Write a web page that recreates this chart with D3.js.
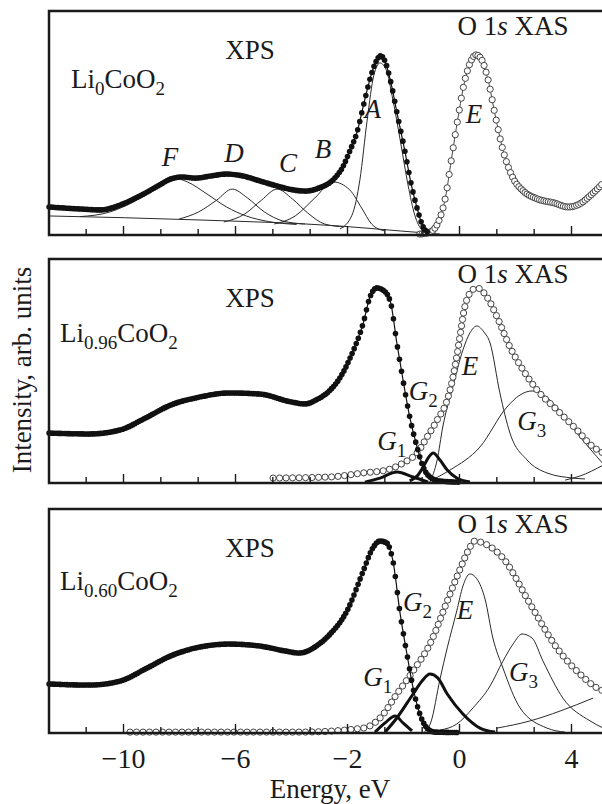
<!DOCTYPE html>
<html>
<head>
<meta charset="utf-8">
<style>
body{margin:0;background:#fff}
svg{display:block}
text{font-family:"Liberation Serif","Times New Roman",serif;fill:#1a1a1a;font-size:27px}
.frame{fill:none;stroke:#1a1a1a;stroke-width:2.5}
.tick line{stroke:#1a1a1a;stroke-width:1.4}
.tick text{font-size:28px}
.thin{fill:none;stroke:#2a2a2a;stroke-width:1}
.thick{fill:none;stroke:#111;stroke-width:3}
.xps{fill:none;stroke:#111;stroke-width:1.2}
.xas{fill:none;stroke:#444;stroke-width:1}
</style>
</head>
<body>
<script src="https://cdn.jsdelivr.net/npm/d3@7/dist/d3.min.js"></script>
<script>
// energy tick labels (eV) and intensity in arb. units, 0..100 per panel
var tickVals = [-10, -6, -2, 0, 4];

// Li0CoO2
var xps0 = [[-12.64,12.5],[-11.5,11.6],[-10.8,11.2],[-10.1,13.4],[-9.4,17.4],[-8.7,22.3],[-8.3,25.0],[-7.9,25.9],[-7.4,25.4],[-6.9,26.3],[-6.3,27.2],[-5.7,26.3],[-5.1,24.1],[-4.5,21.9],[-3.9,20.1],[-3.5,19.6],[-3.0,21.0],[-2.5,24.6],[-2.15,30.4],[-1.95,37.5],[-1.82,46.0],[-1.70,58.5],[-1.58,70.5],[-1.48,77.5],[-1.40,80.0],[-1.32,77.5],[-1.22,68.5],[-1.10,53.6],[-0.97,37.9],[-0.85,22.3],[-0.74,11.2],[-0.64,3.6],[-0.53,0.9]];
var xas0 = [[-0.70,0.4],[-0.52,1.3],[-0.36,6.3],[-0.24,17.0],[-0.14,33.0],[-0.02,52.0],[0.20,68.5],[0.42,77.5],[0.61,80.4],[0.80,78.5],[1.04,69.2],[1.29,53.6],[1.57,37.9],[1.93,25.4],[2.3,19.6],[2.8,16.1],[3.4,14.3],[3.9,12.5],[4.3,13.8],[4.75,18.3],[5.15,23.2]];
var bg0 = [[-12.64,8.5],[-7.25,6.7],[-2.25,4.0],[-1.05,1.8],[-0.34,0.4]];
var peakF = [[-11.54,8.2],[-10.46,10.3],[-9.39,16.5],[-8.68,22.3],[-8.2,25.4],[-7.7,23.7],[-7.0,18.3],[-6.3,12.5],[-5.6,8.5],[-4.8,6.0],[-3.8,4.7]];
var peakD = [[-8.0,7.1],[-7.3,10.3],[-6.65,15.6],[-6.1,20.5],[-5.55,16.5],[-4.95,10.3],[-4.3,6.3],[-3.5,4.9]];
var peakC = [[-6.4,5.8],[-5.65,9.4],[-5.05,15.6],[-4.5,20.5],[-3.95,16.1],[-3.4,9.8],[-2.8,4.9],[-2.1,3.6]];
var peakB = [[-4.6,4.9],[-3.85,8.5],[-3.15,16.5],[-2.5,23.7],[-1.95,20.1],[-1.74,12.1],[-1.56,4.9],[-1.33,1.8]];
var peakA = [[-2.25,2.7],[-1.91,8.9],[-1.77,24.6],[-1.64,51.3],[-1.52,71.4],[-1.41,76.8],[-1.30,73.7],[-1.18,60.3],[-1.05,42.4],[-0.91,22.3],[-0.79,8.9],[-0.66,2.2],[-0.52,0.4]];

// Li0.96CoO2
var xps96 = [[-12.64,22.3],[-11.2,21.9],[-10.1,23.7],[-9.2,29.0],[-8.3,34.8],[-7.25,38.4],[-6.2,40.2],[-5.1,39.7],[-4.0,36.2],[-3.5,35.3],[-3.1,37.1],[-2.6,41.5],[-2.2,48.0],[-1.95,55.5],[-1.71,71.4],[-1.59,83.0],[-1.47,87.1],[-1.34,85.8],[-1.22,80.4],[-1.11,62.5],[-1.0,46.0],[-0.88,29.5],[-0.75,16.1],[-0.64,7.1],[-0.52,2.7],[-0.34,0.9],[0.0,0.4]];
var xas96 = [[-4.64,2.2],[-2.61,2.7],[-1.71,4.5],[-1.29,5.8],[-1.0,8.9],[-0.75,13.4],[-0.57,20.5],[-0.39,28.1],[-0.21,37.1],[-0.14,43.5],[-0.05,55.0],[0.04,66.0],[0.18,77.0],[0.39,84.8],[0.64,87.1],[1.0,83.0],[1.36,74.1],[1.82,60.7],[2.29,50.4],[2.79,41.5],[3.5,32.6],[4.21,23.7],[4.79,16.1],[5.15,13.4]];
var e96 = [[-0.52,0.4],[-0.39,10.3],[-0.29,25.0],[-0.11,42.9],[0.14,59.4],[0.39,67.0],[0.64,70.1],[0.89,67.4],[1.11,62.5],[1.46,40.2],[1.82,22.3],[2.43,10.3],[3.14,4.5],[4.07,2.2],[4.5,1.8]];
var g3_96 = [[-0.52,0.9],[-0.16,5.8],[0.75,16.1],[1.71,33.9],[2.18,39.3],[2.61,41.1],[3.07,38.8],[3.5,33.9],[4.21,22.3],[5.15,8.5]];
var g4_96 = [[3.79,1.3],[4.32,3.1],[5.15,8.0]];
var g2_96 = [[-0.88,0.9],[-0.73,3.6],[-0.64,7.1],[-0.55,11.2],[-0.46,13.4],[-0.34,10.3],[-0.21,5.8],[-0.04,2.2],[0.39,0.4]];
var g1_96 = [[-1.68,0.4],[-1.41,2.2],[-1.11,4.9],[-0.82,2.7],[-0.55,0.4]];

// Li0.60CoO2
var xps60 = [[-12.64,21.9],[-11.2,21.4],[-10.1,23.2],[-9.2,28.6],[-8.3,34.4],[-7.25,38.4],[-6.2,39.7],[-5.1,38.8],[-4.2,36.6],[-3.7,35.7],[-3.1,38.8],[-2.6,44.2],[-2.0,54.5],[-1.71,72.3],[-1.55,82.1],[-1.41,85.7],[-1.29,84.8],[-1.18,76.8],[-1.05,53.1],[-0.93,35.3],[-0.82,20.1],[-0.70,8.5],[-0.57,2.2],[-0.43,0.4],[0.0,0.2]];
var xas60 = [[-9.75,0.4],[-3.68,0.4],[-1.71,2.2],[-1.41,6.7],[-1.11,17.4],[-0.82,27.7],[-0.52,39.7],[-0.21,58.9],[0.04,73.2],[0.32,81.2],[0.57,85.7],[0.86,84.8],[1.57,78.1],[2.54,57.6],[3.5,37.9],[4.32,26.3],[4.93,20.1],[5.15,18.8]];
var e60 = [[-0.62,0.5],[-0.5,5.0],[-0.34,24.0],[-0.21,38.0],[-0.04,54.5],[0.14,65.6],[0.39,71.0],[0.64,68.8],[0.93,59.8],[1.21,42.4],[1.57,29.0],[2.18,11.2],[3.14,2.2],[3.79,0.4]];
var g3_60 = [[-0.34,1.3],[-0.04,4.0],[0.5,11.2],[1.11,21.0],[1.57,32.1],[1.93,39.7],[2.25,44.2],[2.61,42.4],[3.0,32.1],[3.71,15.6],[4.68,5.4],[5.15,2.2]];
var g4_60 = [[1.36,2.2],[2.54,5.4],[3.61,9.8],[4.79,15.6]];
var g2_60 = [[-1.32,0.4],[-1.11,6.7],[-0.82,17.4],[-0.66,23.2],[-0.52,26.3],[-0.38,24.6],[-0.21,17.4],[0.14,8.5],[0.75,2.2],[1.29,0.4]];
var g1_60 = [[-1.5,0.4],[-1.32,4.5],[-1.14,7.6],[-1.0,4.5],[-0.84,0.9]];

// peak labels: [letter, subscript, energy, intensity]
var labels0 = [["F","",-8.32,30.8],["D","",-6.04,32.6],["C","",-4.11,28.1],["B","",-2.86,34.4],["A","",-1.54,52.2],["E","",0.54,50.0]];
var labels96 = [["E","",0.39,48.2],["G","2",-0.64,37.1],["G","1",-1.20,14.7],["G","3",2.6,23.7]];
var labels60 = [["E","",0.21,50.9],["G","2",-0.74,54.5],["G","1",-1.45,21.0],["G","3",2.3,23.2]];

var W = 602, H = 804;
var left = 49, right = 605, panelH = 224;
var tops = [11, 259, 509];

var panels = [
  {name:["Li","0","CoO","2"], xps:xps0, xas:xas0, xasByX:true, xasStep:2, thin:[bg0,peakF,peakD,peakC,peakB,peakA], thick:[], labels:labels0, nameX:71, nameY:77},
  {name:["Li","0.96","CoO","2"], xps:xps96, xas:xas96, xasByX:false, xasStep:6.5, thin:[e96,g3_96,g4_96], thick:[g1_96,g2_96], labels:labels96, nameX:60, nameY:83},
  {name:["Li","0.60","CoO","2"], xps:xps60, xas:xas60, xasByX:false, xasStep:6.5, thin:[e60,g3_60,g4_60], thick:[g1_60,g2_60], labels:labels60, nameX:60, nameY:81}
];

var x = d3.scaleLinear()
  .domain(tickVals)
  .range(tickVals.map(function(d,i){ return 123 + i*112; }));

var minorVals = [tickVals[0] - (tickVals[1]-tickVals[0])/3];
for (var i = 0; i < tickVals.length-1; i++) {
  var a = tickVals[i], b = tickVals[i+1];
  minorVals.push(a + (b-a)/3, a + 2*(b-a)/3);
}

var svg = d3.select("body").append("svg").attr("width", W).attr("height", H);

function addMarkers(g, path, byX, step, cls) {
  var node = path.node(), len = node.getTotalLength(), pts = [];
  if (byX) {
    var next = -Infinity;
    for (var l = 0; l <= len; l += 0.25) {
      var p = node.getPointAtLength(l);
      if (p.x >= next) { pts.push(p); next = p.x + step; }
    }
  } else {
    for (var l2 = 0; l2 <= len; l2 += step) pts.push(node.getPointAtLength(l2));
  }
  var c = g.append("g").selectAll("circle").data(pts).join("circle")
    .attr("cx", function(d){ return d.x; })
    .attr("cy", function(d){ return d.y; });
  if (cls == "xps") c.attr("r", 2.8).attr("fill", "#111");
  else c.attr("r", 3.1).attr("fill", "#fff").attr("stroke", "#444").attr("stroke-width", 1);
}

panels.forEach(function(p, pi) {
  var top = tops[pi], bottom = top + panelH;
  var y = d3.scaleLinear().domain([0, 100]).range([bottom, top]);
  var line = d3.line().x(function(d){ return x(d[0]); }).y(function(d){ return y(d[1]); }).curve(d3.curveMonotoneX);
  var g = svg.append("g");

  p.thin.forEach(function(s){ g.append("path").attr("class","thin").attr("d", line(s)); });

  var xasPath = g.append("path").attr("class","xas").attr("d", line(p.xas));
  addMarkers(g, xasPath, p.xasByX, p.xasStep, "xas");

  p.thick.forEach(function(s){ g.append("path").attr("class","thick").attr("d", line(s)); });

  var xpsPath = g.append("path").attr("class","xps").attr("d", line(p.xps));
  addMarkers(g, xpsPath, true, 2, "xps");

  // frame
  g.append("rect").attr("class","frame").attr("x", left).attr("y", top).attr("width", right-left).attr("height", panelH);

  // ticks
  var ax = g.append("g").attr("transform","translate(0,"+bottom+")")
    .call(d3.axisBottom(x).tickValues(tickVals).tickSize(-9).tickPadding(15)
      .tickFormat(pi == 2 ? d3.format("") : ""));
  ax.select(".domain").remove();
  ax.attr("font-size", null).attr("font-family", null);
  var mx = g.append("g").attr("transform","translate(0,"+bottom+")")
    .call(d3.axisBottom(x).tickValues(minorVals).tickSize(-6).tickFormat(""));
  mx.select(".domain").remove();

  // titles
  g.append("text").attr("x", 250).attr("y", top+48).attr("text-anchor","middle").text("XPS");
  var t = g.append("text").attr("x", 513).attr("y", top+24).attr("text-anchor","middle").attr("font-size","28px");
  t.append("tspan").text("O 1");
  t.append("tspan").attr("font-style","italic").text("s");
  t.append("tspan").text(" XAS");

  var n = g.append("text").attr("x", p.nameX).attr("y", top + p.nameY);
  n.append("tspan").text(p.name[0]);
  n.append("tspan").attr("font-size","19px").attr("dy", 7).text(p.name[1]);
  n.append("tspan").attr("dy", -7).text(p.name[2]);
  n.append("tspan").attr("font-size","19px").attr("dy", 7).text(p.name[3]);

  p.labels.forEach(function(l) {
    var lt = g.append("text").attr("x", x(l[2])).attr("y", y(l[3])).attr("text-anchor","middle");
    lt.append("tspan").attr("font-style","italic").text(l[0]);
    if (l[1]) lt.append("tspan").attr("font-size","19px").attr("dy", 7).text(l[1]);
  });
});

svg.append("text").attr("transform","translate(31,370) rotate(-90)").attr("text-anchor","middle").attr("font-size","26px").text("Intensity, arb. units");
svg.append("text").attr("x", 330).attr("y", 798).attr("text-anchor","middle").attr("font-size","28px").text("Energy, eV");
</script>
</body>
</html>
